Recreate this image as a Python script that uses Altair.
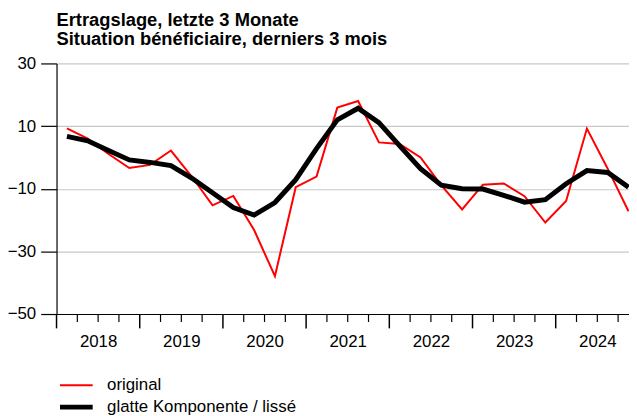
import altair as alt
import pandas as pd

# ---- data -------------------------------------------------------------
years = [2018, 2019, 2020, 2021, 2022, 2023, 2024]
quarters = [1, 2, 3, 4]
original = [9.3, 6.0, 1.1, -3.4, -2.4, 2.2, -6.1, -15.3, -12.3, -23.2,
            -37.9, -9.5, -6.1, 15.9, 18.0, 4.8, 4.3, 0.0, -8.9, -16.6,
            -8.7, -8.3, -12.4, -20.8, -13.9, 9.2, -3.6, -17.2]
smooth = [6.7, 5.3, 2.2, -0.8, -1.6, -2.6, -6.6, -11.3, -16.0, -18.4,
          -14.4, -7.1, 2.8, 12.0, 15.7, 11.1, 3.7, -3.6, -8.9, -10.0,
          -10.1, -12.1, -14.3, -13.5, -8.4, -4.2, -4.8, -9.5]
series_names = ["original", "glatte Komponente / lissé"]
series_colors = ["#ff0000", "#000000"]
series_widths = [2, 5]
y_ticks = [-50, -30, -10, 10, 30]
title_lines = ["Ertragslage, letzte 3 Monate",
               "Situation bénéficiaire, derniers 3 mois"]

FONT = "Liberation Sans"
FS = 17
W, H = 578, 253

# ---- tables -----------------------------------------------------------
periods = [y + (q - 0.5) / 4 for y in years for q in quarters]
rows = []
for name, vals in zip(series_names, [original, smooth]):
    for i, (t, v) in enumerate(zip(periods, vals)):
        rows.append({"t": t, "value": v, "series": name, "order": i})
df = pd.DataFrame(rows)

major = pd.DataFrame({"pos": years})
minor = pd.DataFrame({"pos": [y + k / 4 for y in years for k in (1, 2, 3)]})
label_pos = [y + 0.5 for y in years]

xscale = alt.Scale(domain=[2018, 2018 + W / 84], nice=False, zero=False)
yscale = alt.Scale(domain=[-50, 30], nice=False, zero=False)

lines = alt.Chart(df).mark_line(clip=True, strokeJoin="miter", strokeCap="butt").encode(
    x=alt.X("t:Q", scale=xscale,
            axis=alt.Axis(values=label_pos, ticks=False, grid=False,
                          labelExpr="floor(datum.value)", labelPadding=20,
                          labelFontSize=FS, labelFont=FONT, labelColor="black",
                          domainColor="black", domainWidth=1.2, title=None,
                          labelFlush=False)),
    y=alt.Y("value:Q", scale=yscale,
            axis=alt.Axis(values=y_ticks, grid=True, gridColor="#c8c8c8",
                          gridWidth=1.2, tickSize=16, tickColor="black",
                          tickWidth=1.2, domainColor="black", domainWidth=1.2,
                          labelPadding=5, labelFontSize=FS, labelFont=FONT,
                          labelColor="black", title=None)),
    color=alt.Color("series:N",
                    scale=alt.Scale(domain=series_names, range=series_colors),
                    legend=alt.Legend(title=None, orient="none", legendX=1,
                                      legendY=314, symbolType="stroke",
                                      symbolSize=1089, labelFontSize=FS,
                                      labelFont=FONT, labelColor="black",
                                      labelOffset=12, rowPadding=0,
                                      clipHeight=22, labelLimit=0,
                                      padding=0, direction="vertical")),
    strokeWidth=alt.StrokeWidth("series:N",
                                scale=alt.Scale(domain=series_names,
                                                range=series_widths),
                                legend=None),
    order="order:Q",
)

major_ticks = alt.Chart(major).mark_rule(color="black", strokeWidth=1.5).encode(
    x=alt.X("pos:Q", scale=xscale),
    y=alt.value(H), y2=alt.value(H + 14.5))
minor_ticks = alt.Chart(minor).mark_rule(color="black", strokeWidth=1.2).encode(
    x=alt.X("pos:Q", scale=xscale),
    y=alt.value(H), y2=alt.value(H + 8))

chart = alt.layer(lines, major_ticks, minor_ticks).properties(
    width=W, height=H,
    autosize=alt.AutoSizeParams(type="none"),
    padding={"left": 49, "top": 54, "right": 0, "bottom": 102},
    title=alt.TitleParams(title_lines, anchor="start", frame="group",
                          fontSize=18.5, font=FONT, fontWeight="bold",
                          color="black", offset=6, lineHeight=19),
).configure_view(stroke=None)

chart.save("out.html", embed_options={"renderer": "svg", "actions": False})
